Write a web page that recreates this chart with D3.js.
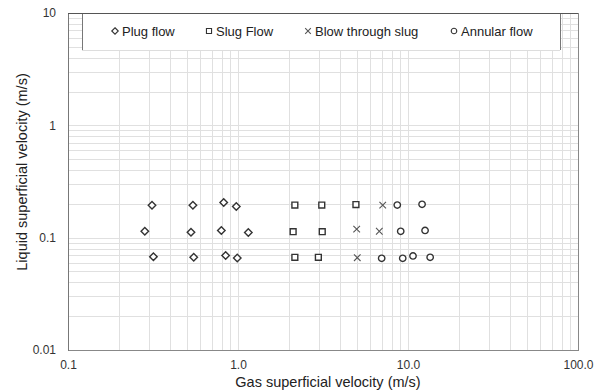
<!DOCTYPE html>
<html>
<head>
<meta charset="utf-8">
<script src="https://cdn.jsdelivr.net/npm/d3@7"></script>
<style>
  html, body { margin: 0; padding: 0; background: #fff; }
  svg { display: block; font-family: "Liberation Sans", Arial, sans-serif; }
</style>
</head>
<body>
<svg id="chart" width="601" height="392"></svg>
<script>
// Flow regime observations: gas vs liquid superficial velocity (m/s)
const plugGas    = [0.312, 0.543, 0.824, 0.977, 0.283, 0.529, 0.798, 1.15, 0.318, 0.549, 0.846, 0.99];
const plugLiq    = [0.194, 0.194, 0.206, 0.189, 0.114, 0.112, 0.116, 0.111, 0.0677, 0.0669, 0.0694, 0.0659];
const slugGas    = [2.16, 3.11, 4.94, 2.11, 3.13, 2.16, 2.97];
const slugLiq    = [0.195, 0.195, 0.197, 0.113, 0.113, 0.0669, 0.0669];
const blowGas    = [7.10, 4.99, 6.78, 5.03];
const blowLiq    = [0.195, 0.119, 0.114, 0.0663];
const annularGas = [8.65, 12.1, 9.06, 12.6, 7.0, 9.31, 10.7, 13.5];
const annularLiq = [0.195, 0.198, 0.114, 0.116, 0.0655, 0.0655, 0.0687, 0.0669];

const seriesNames = ["Plug flow", "Slug Flow", "Blow through slug", "Annular flow"];
const xTickValues = [0.1, 1, 10, 100];
const xTickLabels = ["0.1", "1.0", "10.0", "100.0"];
const yTickValues = [0.01, 0.1, 1, 10];
const yTickLabels = ["0.01", "0.1", "1", "10"];
const xTitle = "Gas superficial velocity (m/s)";
const yTitle = "Liquid superficial velocity (m/s)";

const svg = d3.select("#chart");
const plotL = 68, plotR = 578, plotT = 13, plotB = 350;

const x = d3.scaleLog().domain([0.1, 100]).range([plotL, plotR]);
const y = d3.scaleLog().domain([0.01, 10]).range([plotB, plotT]);

// minor + major grid values for each decade
const gridVals = (lo, hi) => {
  const out = [];
  for (let d = lo; d < hi * 0.999; d *= 10)
    for (let k = 1; k <= 10; k++) out.push(+(d * k).toPrecision(3));
  return Array.from(new Set(out));
};

const grid = svg.append("g");
grid.append("g")
  .attr("transform", `translate(0,${plotB})`)
  .call(d3.axisBottom(x).tickValues(gridVals(0.1, 100)).tickSize(-(plotB - plotT)).tickFormat(""))
  .call(g => g.select(".domain").remove())
  .call(g => g.selectAll("line").attr("stroke", "#e0e0e0").attr("stroke-width", 1).attr("shape-rendering", "crispEdges"));
grid.append("g")
  .attr("transform", `translate(${plotL},0)`)
  .call(d3.axisLeft(y).tickValues(gridVals(0.01, 10)).tickSize(-(plotR - plotL)).tickFormat(""))
  .call(g => g.select(".domain").remove())
  .call(g => g.selectAll("line").attr("stroke", "#e0e0e0").attr("stroke-width", 1).attr("shape-rendering", "crispEdges"));

// plot frame
const frame = svg.append("g").attr("fill", "none").attr("shape-rendering", "crispEdges");
frame.append("line").attr("x1", plotR).attr("x2", plotR).attr("y1", plotT).attr("y2", plotB).attr("stroke", "#888");

// axes with tick labels
const xAxis = svg.append("g")
  .attr("transform", `translate(0,${plotB})`)
  .call(d3.axisBottom(x).tickValues(xTickValues).tickSize(0).tickPadding(10)
    .tickFormat((d, i) => xTickLabels[i]));
xAxis.select(".domain").attr("stroke", "#888").attr("shape-rendering", "crispEdges");
xAxis.selectAll("text").attr("font-size", 12).attr("fill", "#333").attr("font-family", "Liberation Sans, Arial, sans-serif");

const yAxis = svg.append("g")
  .attr("transform", `translate(${plotL},0)`)
  .call(d3.axisLeft(y).tickValues(yTickValues).tickSize(0).tickPadding(12)
    .tickFormat((d, i) => yTickLabels[i]));
yAxis.select(".domain").attr("stroke", "#777").attr("shape-rendering", "crispEdges");
yAxis.selectAll("text").attr("font-size", 12).attr("fill", "#333").attr("font-family", "Liberation Sans, Arial, sans-serif");

// axis titles
svg.append("text")
  .attr("x", 328).attr("y", 387)
  .attr("text-anchor", "middle").attr("font-size", 14.5).attr("fill", "#222")
  .text(xTitle);
svg.append("text")
  .attr("transform", `translate(27,172) rotate(-90)`)
  .attr("text-anchor", "middle").attr("font-size", 14.5).attr("fill", "#222")
  .text(yTitle);

// marker shapes per regime
const shapes = [
  { type: d3.symbolDiamond2, size: 36, stroke: "#333", width: 1.4 },
  { type: d3.symbolSquare2,  size: 44, stroke: "#333", width: 1.4 },
  { type: d3.symbolTimes,    size: 30, stroke: "#555", width: 1.1 },
  { type: d3.symbolCircle,   size: 32, stroke: "#333", width: 1.4 }
];
const series = [
  { gas: plugGas, liq: plugLiq },
  { gas: slugGas, liq: slugLiq },
  { gas: blowGas, liq: blowLiq },
  { gas: annularGas, liq: annularLiq }
];

series.forEach((s, si) => {
  const sh = shapes[si];
  svg.append("g").selectAll("path")
    .data(s.gas.map((g, i) => [g, s.liq[i]]))
    .join("path")
    .attr("transform", d => `translate(${x(d[0])},${y(d[1])})`)
    .attr("d", d3.symbol(sh.type, sh.size))
    .attr("fill", si === 2 ? "none" : "#fff")
    .attr("stroke", sh.stroke)
    .attr("stroke-width", sh.width);
});

// legend box across the top of the plot
const legend = svg.append("g");
legend.append("rect")
  .attr("x", 82).attr("y", plotT + 0.5).attr("width", 478).attr("height", 37)
  .attr("fill", "#fff").attr("stroke", "none");
legend.append("line").attr("x1", 82).attr("x2", 82).attr("y1", plotT).attr("y2", 50)
  .attr("stroke", "#777").attr("shape-rendering", "crispEdges");
legend.append("line").attr("x1", 560).attr("x2", 560).attr("y1", plotT).attr("y2", 50)
  .attr("stroke", "#777").attr("shape-rendering", "crispEdges");
legend.append("line").attr("x1", 82).attr("x2", 560).attr("y1", 50).attr("y2", 50)
  .attr("stroke", "#ddd").attr("shape-rendering", "crispEdges");
legend.append("line").attr("x1", plotL).attr("x2", plotR).attr("y1", plotT).attr("y2", plotT)
  .attr("stroke", "#555").attr("shape-rendering", "crispEdges");

const legendX = [115, 209, 308, 454];
seriesNames.forEach((name, i) => {
  const sh = shapes[i];
  const item = legend.append("g").attr("transform", `translate(${legendX[i]},31)`);
  item.append("path")
    .attr("d", d3.symbol(sh.type, sh.size * 0.75))
    .attr("fill", i === 2 ? "none" : "#fff")
    .attr("stroke", sh.stroke).attr("stroke-width", 1.1);
  item.append("text")
    .attr("x", 7).attr("dy", "0.35em")
    .attr("font-size", 13).attr("fill", "#222")
    .text(name);
});
</script>
</body>
</html>
